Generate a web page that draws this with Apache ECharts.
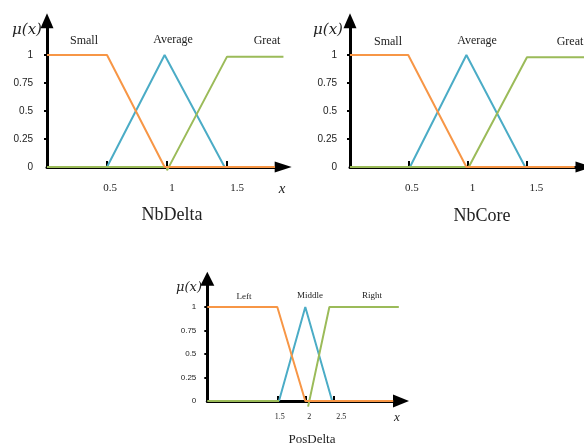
<!DOCTYPE html>
<html>
<head>
<meta charset="utf-8">
<script src="https://cdn.jsdelivr.net/npm/echarts@6/dist/echarts.min.js"></script>
<style>
html,body{margin:0;padding:0;background:#fff;}
#chart{width:584px;height:446px;}
</style>
</head>
<body>
<div id="chart"></div>
<script>
// ---- data ----
const yTicks = [0, 0.25, 0.5, 0.75, 1];
const xTicksTop = [0.5, 1, 1.5];
const xTicksBottom = [1.5, 2, 2.5];

const titles = ['NbDelta', 'NbCore', 'PosDelta'];
const namesTop = ['Small', 'Average', 'Great'];
const namesBottom = ['Left', 'Middle', 'Right'];

// NbDelta
const nbDeltaSmall = [[0, 1], [0.5, 1], [0.98, 0], [1.9, 0]];
const nbDeltaAverage = [[0.5, 0], [0.98, 1], [1.48, 0]];
const nbDeltaGreat = [[0, 0], [1.0, 0], [1.0, -0.03], [1.5, 0.985], [1.97, 0.985]];
// NbCore
const nbCoreSmall = [[0, 1], [0.495, 1], [0.99, 0], [1.91, 0]];
const nbCoreAverage = [[0.51, 0], [0.99, 1], [1.49, 0]];
const nbCoreGreat = [[0, 0], [1.01, 0], [1.505, 0.98], [1.99, 0.98]];
// PosDelta
const posLeft = [[0.25, 1], [1.5, 1], [2.0, 0], [3.57, 0]];
const posMiddle = [[1.53, 0], [2.0, 1], [2.48, 0]];
const posRight = [[0.25, 0], [1.53, 0], [1.8, '-'], [2.05, -0.06], [2.43, 1], [3.67, 1]];

// ---- styles ----
const C_ORANGE = '#F79646', C_BLUE = '#4BACC6', C_GREEN = '#9BBB59';
const SERIF = '"Liberation Serif", "Times New Roman", serif';
const SANS = '"Liberation Sans", Arial, sans-serif';

function yAxisCfg(gi, max, fs, margin, arrow) {
  return {
    type: 'value', gridIndex: gi, min: 0, max: max,
    splitLine: {show: false},
    axisLine: {show: true, onZero: false, symbol: ['none', 'triangle'], symbolSize: arrow,
      lineStyle: {color: '#000', width: 3}},
    axisTick: {show: true, length: 3, customValues: yTicks.slice(1),
      lineStyle: {color: '#000', width: 2}},
    axisLabel: {show: true, customValues: yTicks, margin: margin,
      color: '#222', fontFamily: SANS, fontSize: fs,
      formatter: v => String(v)}
  };
}
function xAxisCfg(gi, min, max, ticks, fs, margin, pads, arrow, tickLen) {
  const rich = {};
  pads.forEach((p, i) => { rich['t' + i] = {padding: [0, 0, 0, p], fontFamily: SERIF, fontSize: fs, color: '#222'}; });
  return {
    type: 'value', gridIndex: gi, min: min, max: max,
    splitLine: {show: false},
    axisLine: {show: true, onZero: false, symbol: ['none', 'triangle'], symbolSize: arrow,
      lineStyle: {color: '#000', width: 3}},
    axisTick: {show: true, inside: true, length: tickLen, customValues: ticks,
      lineStyle: {color: '#000', width: 2}},
    axisLabel: {show: true, customValues: ticks, margin: margin,
      fontFamily: SERIF, fontSize: fs, color: '#222', rich: rich,
      formatter: v => {
        let idx = ticks.findIndex(t => Math.abs(t - v) < 1e-9);
        if (idx < 0) idx = 0;
        return '{t' + idx + '|' + v + '}';
      }}
  };
}
function line(data, color, gi, w) {
  return {type: 'line', data: data, xAxisIndex: gi, yAxisIndex: gi,
    symbol: 'none', showSymbol: false, connectNulls: false, clip: false,
    lineStyle: {color: color, width: w}, itemStyle: {color: color}, z: 3};
}
function txt(text, x, y, font) {
  return {type: 'text', z: 10, style: {text: text, x: x, y: y, font: font, fill: '#222',
    align: 'center', verticalAlign: 'middle', textAlign: 'center', textVerticalAlign: 'middle'}};
}

const option = {
  animation: false,
  backgroundColor: '#fff',
  grid: [
    {left: 47, top: 20.8, width: 236.2, height: 146.2},
    {left: 350, top: 20.8, width: 238.8, height: 146.2},
    {left: 207.3, top: 278.7, width: 193.7, height: 122.3}
  ],
  xAxis: [
    xAxisCfg(0, 0, 1.968, xTicksTop, 11, 16, [6, 10, 20], [11, 17], 6),
    xAxisCfg(1, 0, 1.99, xTicksTop, 11, 16, [6, 10, 20], [11, 17], 6),
    xAxisCfg(2, 0.25, 3.709, xTicksBottom, 8, 12, [5, 8, 16], [13, 16], 5)
  ],
  yAxis: [
    yAxisCfg(0, 1.305, 10, 14, [13, 15]),
    yAxisCfg(1, 1.305, 10, 13, [13, 15]),
    yAxisCfg(2, 1.301, 8, 11, [14, 14])
  ],
  series: [
    line(nbDeltaAverage, C_BLUE, 0, 2),
    line(nbDeltaGreat, C_GREEN, 0, 2),
    line(nbDeltaSmall, C_ORANGE, 0, 2),
    line(nbCoreAverage, C_BLUE, 1, 2),
    line(nbCoreGreat, C_GREEN, 1, 2),
    line(nbCoreSmall, C_ORANGE, 1, 2),
    line(posMiddle, C_BLUE, 2, 2),
    line(posRight, C_GREEN, 2, 2),
    line(posLeft, C_ORANGE, 2, 2)
  ],
  graphic: [
    txt(namesTop[0], 84, 41, '12px ' + SERIF),
    txt(namesTop[1], 173, 40, '12px ' + SERIF),
    txt(namesTop[2], 267, 41, '12px ' + SERIF),
    txt(namesTop[0], 388, 42, '12px ' + SERIF),
    txt(namesTop[1], 477, 41, '12px ' + SERIF),
    txt(namesTop[2], 570, 42, '12px ' + SERIF),
    txt(namesBottom[0], 244, 297, '9px ' + SERIF),
    txt(namesBottom[1], 310, 296, '9px ' + SERIF),
    txt(namesBottom[2], 372, 296, '9px ' + SERIF),
    txt('μ(x)', 27, 30, 'italic 15px "DejaVu Serif", serif'),
    txt('μ(x)', 328, 30, 'italic 15px "DejaVu Serif", serif'),
    txt('μ(x)', 189, 288, 'italic 13px "DejaVu Serif", serif'),
    txt('x', 282, 189, 'italic 15px ' + SERIF),
    txt('x', 397, 418, 'italic 13px ' + SERIF),
    txt(titles[0], 172, 215, '18px ' + SERIF),
    txt(titles[1], 482, 216, '18px ' + SERIF),
    txt(titles[2], 312, 440, '13px ' + SERIF)
  ]
};

const chart = echarts.init(document.getElementById('chart'), null, {renderer: 'canvas'});
chart.setOption(option);
</script>
</body>
</html>
